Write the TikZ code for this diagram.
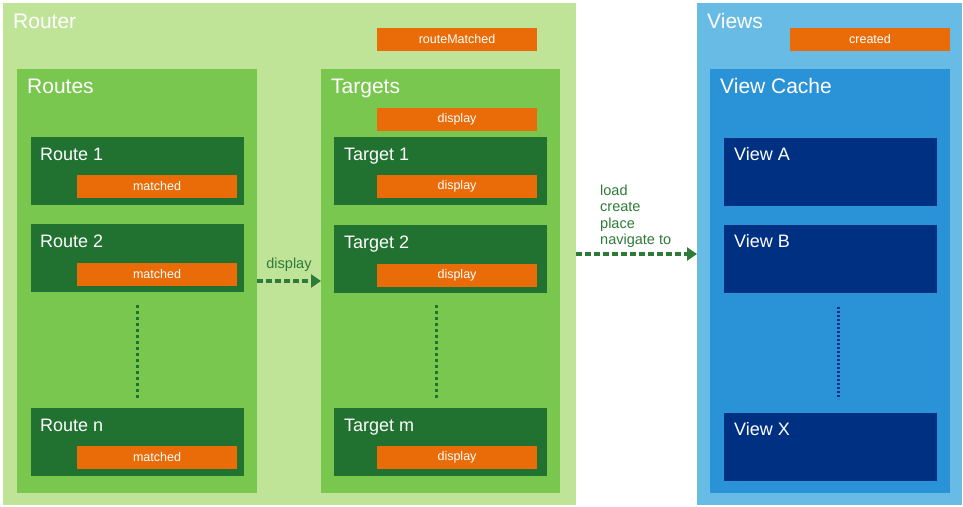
\documentclass[tikz,border=0pt]{standalone}
\usepackage{fontspec}
\setmainfont{Liberation Sans}
\usetikzlibrary{arrows.meta,positioning}
\definecolor{routerbg}{HTML}{C0E497}
\definecolor{groupbg}{HTML}{7AC74F}
\definecolor{itembg}{HTML}{217230}
\definecolor{evtbg}{HTML}{E96C08}
\definecolor{viewsbg}{HTML}{68BBE4}
\definecolor{cachebg}{HTML}{2A92D6}
\definecolor{viewbg}{HTML}{003082}
\definecolor{flowgreen}{HTML}{2E7A38}

\begin{document}
\begin{tikzpicture}[
  x=1pt, y=-1pt,
  box/.style={anchor=north west, inner sep=0pt, outer sep=0pt},
  item/.style={box, minimum width=213pt, minimum height=68pt},
  evt/.style={fill=evtbg, text=white, inner sep=0pt, outer sep=0pt,
              minimum width=160pt, minimum height=23pt,
              font=\fontsize{12.5}{12.5}\selectfont},
  ttl/.style={anchor=base west, inner sep=0pt, text=white,
              font=\fontsize{21}{21}\selectfont},
  ittl/.style={ttl, font=\fontsize{18}{18}\selectfont},
  lbl/.style={text=flowgreen, inner sep=0pt, font=\fontsize{14.5}{16.5}\selectfont},
  flow/.style={draw=flowgreen, line width=3.4pt, dash pattern=on 6pt off 3pt,
               -{Triangle[length=10pt,width=13pt]}},
  dots/.style={line width=3pt, dash pattern=on 3pt off 3pt}
]
\useasboundingbox (0,0) rectangle (963,506);

% router side
\node[box, fill=routerbg, minimum width=573pt, minimum height=502pt] (router) at (3,3) {};
\node[ttl] at ([xshift=10pt,yshift=-25pt]router.north west) {Router};
\node[evt, anchor=north west] (rm) at (377,28) {routeMatched};

\node[box, fill=groupbg, minimum width=240pt, minimum height=424pt] (routes) at (17,69) {};
\node[ttl] at ([xshift=10pt,yshift=-24pt]routes.north west) {Routes};

\node[box, fill=groupbg, minimum width=239pt, minimum height=424pt] (targets) at (321,69) {};
\node[ttl] at ([xshift=10pt,yshift=-24pt]targets.north west) {Targets};
\node[evt, anchor=north west] (tdisp) at (377,108) {display};

% routes
\node[item, fill=itembg] (r1) at (31,137) {};
\node[ittl] at ([xshift=9pt,yshift=-23pt]r1.north west) {Route 1};
\node[evt, anchor=south east] (m1) at ([xshift=-7pt,yshift=7pt]r1.south east) {matched};

\node[item, fill=itembg] (r2) at (31,224) {};
\node[ittl] at ([xshift=9pt,yshift=-23pt]r2.north west) {Route 2};
\node[evt, anchor=south east] (m2) at ([xshift=-7pt,yshift=6pt]r2.south east) {matched};

\node[item, fill=itembg] (rn) at (31,408) {};
\node[ittl] at ([xshift=9pt,yshift=-23pt]rn.north west) {Route n};
\node[evt, anchor=south east] (mn) at ([xshift=-7pt,yshift=7pt]rn.south east) {matched};

\draw[dots, itembg] ([xshift=-0.5pt,yshift=-13pt]r2.south) -- ([xshift=-0.5pt,yshift=10pt]rn.north);

% targets
\node[item, fill=itembg] (t1) at (334,137) {};
\node[ittl] at ([xshift=10pt,yshift=-23pt]t1.north west) {Target 1};
\node[evt, anchor=south east] (d1) at ([xshift=-10pt,yshift=7pt]t1.south east) {display};

\node[item, fill=itembg] (t2) at (334,225) {};
\node[ittl] at ([xshift=10pt,yshift=-23pt]t2.north west) {Target 2};
\node[evt, anchor=south east] (d2) at ([xshift=-10pt,yshift=6pt]t2.south east) {display};

\node[item, fill=itembg] (tm) at (334,408) {};
\node[ittl] at ([xshift=10pt,yshift=-23pt]tm.north west) {Target m};
\node[evt, anchor=south east] (dm) at ([xshift=-10pt,yshift=7pt]tm.south east) {display};

\draw[dots, itembg] ([xshift=-3.8pt,yshift=-12pt]t2.south) -- ([xshift=-3.8pt,yshift=10pt]tm.north);

% views side
\node[box, fill=viewsbg, minimum width=265pt, minimum height=502pt] (views) at (697,3) {};
\node[ttl] at ([xshift=10pt,yshift=-25pt]views.north west) {Views};
\node[evt, anchor=north west] (cr) at (790,28) {created};

\node[box, fill=cachebg, minimum width=240pt, minimum height=424pt] (cache) at (710,69) {};
\node[ttl] at ([xshift=10pt,yshift=-24pt]cache.north west) {View Cache};

\node[item, fill=viewbg] (va) at (724,138) {};
\node[ittl] at ([xshift=10pt,yshift=-22pt]va.north west) {View A};
\node[item, fill=viewbg] (vb) at (724,225) {};
\node[ittl] at ([xshift=10pt,yshift=-22pt]vb.north west) {View B};
\node[item, fill=viewbg] (vx) at (724,413) {};
\node[ittl] at ([xshift=10pt,yshift=-22pt]vx.north west) {View X};

\draw[viewbg, line width=3pt, dash pattern=on 2.4pt off 1.6pt]
  ([xshift=7.5pt,yshift=-14pt]vb.south) -- ([xshift=7.5pt,yshift=14pt]vx.north);

% connectors
\draw[flow] (routes.east) -- node[lbl, above=8pt] {display} (targets.west);
\draw[flow] (router.east) -- (views.west);
\node[lbl, align=left, anchor=south west] (ops) at ([xshift=24pt,yshift=6pt]router.east)
  {load\\create\\place\\navigate to};
\end{tikzpicture}
\end{document}
